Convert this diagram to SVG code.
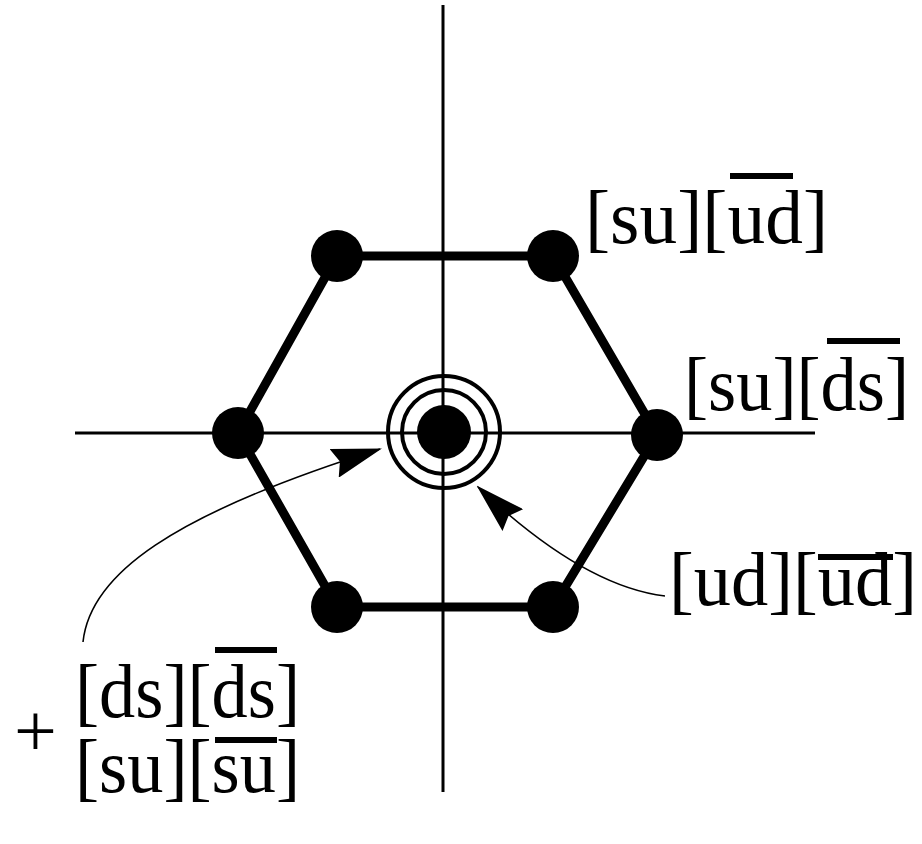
<svg xmlns="http://www.w3.org/2000/svg" width="922" height="844" viewBox="0 0 922 844">
<style>
.axis{stroke:#000;stroke-width:3;fill:none}
.edge{stroke:#000;stroke-width:9;fill:none}
.dot{fill:#000}
.ring{stroke:#000;stroke-width:4;fill:none}
.lbl{font-family:"Liberation Serif","DejaVu Serif",serif;font-size:76px;fill:#000}
.bar{fill:#000}
.lead{stroke:#000;stroke-width:1.6;fill:none}
</style>
<defs>
<marker id="ah" viewBox="0 0 50 30" refX="48" refY="15" markerWidth="50" markerHeight="30" markerUnits="userSpaceOnUse" orient="auto">
<path d="M0,0 L50,15 L0,30 L6,15 Z" fill="#000"/>
</marker>
</defs>
<g id="axes">
<line class="axis" x1="443" y1="5" x2="443" y2="792"/>
<line class="axis" x1="75" y1="433" x2="815" y2="433"/>
</g>
<g id="connectors">
<polygon class="edge" points="337,256 553,256 657,435 553,607 337,607 238,433"/>
<path class="lead" d="M83,642 C90,575 170,515 380,449" marker-end="url(#ah)"/>
<path class="lead" d="M665,596 C615,590 555,560 478,487" marker-end="url(#ah)"/>
</g>
<g id="n-tl"><circle class="dot" cx="337" cy="256" r="26"/></g>
<g id="n-tr"><circle class="dot" cx="553" cy="256" r="26"/></g>
<g id="n-r"><circle class="dot" cx="657" cy="435" r="26"/></g>
<g id="n-br"><circle class="dot" cx="553" cy="607" r="26"/></g>
<g id="n-bl"><circle class="dot" cx="337" cy="607" r="26"/></g>
<g id="n-l"><circle class="dot" cx="238" cy="433" r="26"/></g>
<g id="n-c">
<circle class="dot" cx="444" cy="432" r="27"/>
<circle class="ring" cx="444" cy="432" r="42"/>
<circle class="ring" cx="444" cy="432" r="56"/>
</g>
<g id="lbl-su-ud">
<text class="lbl" x="585" y="243" textLength="243" lengthAdjust="spacingAndGlyphs">[su][ud]</text>
<rect class="bar" x="730" y="173" width="63" height="6"/>
</g>
<g id="lbl-su-ds">
<text class="lbl" x="684" y="410" textLength="225" lengthAdjust="spacingAndGlyphs">[su][ds]</text>
<rect class="bar" x="827" y="338" width="73" height="6"/>
</g>
<g id="lbl-ud-ud">
<text class="lbl" x="669" y="605" textLength="248" lengthAdjust="spacingAndGlyphs">[ud][ud]</text>
<rect class="bar" x="818" y="554" width="75" height="6"/>
</g>
<g id="lbl-mix">
<text class="lbl"><tspan x="75" y="717" textLength="225" lengthAdjust="spacingAndGlyphs">[ds][ds]</tspan><tspan x="75" y="792" textLength="225" lengthAdjust="spacingAndGlyphs">[su][su]</tspan></text>
<rect class="bar" x="215" y="647" width="62" height="6"/>
<rect class="bar" x="215" y="737" width="62" height="6"/>
<text x="14" y="756" style="font-family:'Liberation Serif',serif;font-size:76px">+</text>
</g>
</svg>
